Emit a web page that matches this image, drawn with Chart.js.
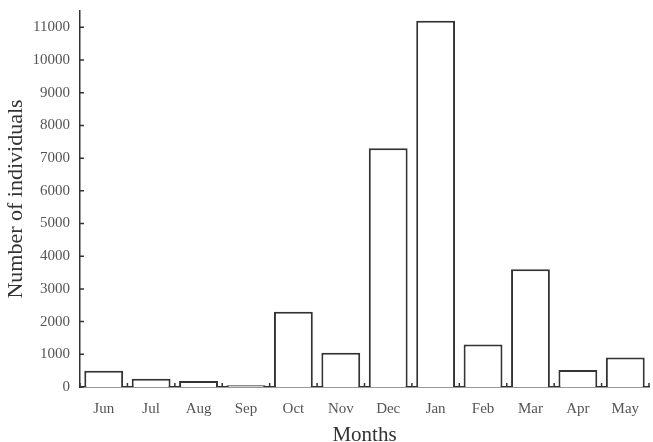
<!DOCTYPE html>
<html>
<head>
<meta charset="utf-8">
<script src="https://cdn.jsdelivr.net/npm/chart.js@4"></script>
<style>
  html, body { margin: 0; padding: 0; background: #fff; }
  #wrap { width: 653px; height: 442px; }
</style>
</head>
<body>
<div id="wrap"><canvas id="monthChart"></canvas></div>
<script>
const months = ["Jun", "Jul", "Aug", "Sep", "Oct", "Nov", "Dec", "Jan", "Feb", "Mar", "Apr", "May"];
const individuals = [500, 250, 180, 50, 2300, 1050, 7300, 11200, 1300, 3600, 520, 900];
const yTicks = [0, 1000, 2000, 3000, 4000, 5000, 6000, 7000, 8000, 9000, 10000, 11000];

const serif = "'Liberation Serif', 'DejaVu Serif', serif";

// small tick marks pointing into the plot, like the original
const innerTicks = {
    id: "innerTicks",
    afterDraw(chart) {
        const c = chart.ctx;
        const x = chart.scales.x;
        const y = chart.scales.y;
        c.save();
        c.strokeStyle = "#333";
        c.lineWidth = 1.5;
        c.beginPath();
        yTicks.forEach(v => {
            const py = y.getPixelForValue(v);
            c.moveTo(x.left, py);
            c.lineTo(x.left + 4, py);
        });
        for (let i = 0; i <= months.length; i++) {
            const px = x.getPixelForValue(i - 0.5);
            c.moveTo(px, y.bottom);
            c.lineTo(px, y.bottom - 4);
        }
        c.stroke();
        c.restore();
    }
};

const ctx = document.getElementById("monthChart").getContext("2d");

new Chart(ctx, {
    type: "bar",
    data: {
        labels: months,
        datasets: [
            {
                label: "Number of individuals",
                data: individuals,
                backgroundColor: "#ffffff",
                borderColor: "#333333",
                borderWidth: 2,
                borderSkipped: "bottom",
                barPercentage: 0.9,
                categoryPercentage: 0.91
            }
        ]
    },
    options: {
        responsive: true,
        maintainAspectRatio: false,
        animation: false,
        layout: {
            padding: { left: 0, right: 4, top: 11, bottom: 0 }
        },
        plugins: {
            legend: { display: false },
            tooltip: { enabled: false }
        },
        scales: {
            x: {
                grid: { display: false },
                border: { display: true, color: "#333", width: 1.5 },
                ticks: {
                    color: "#555",
                    font: { family: serif, size: 15 },
                    padding: 5,
                    maxRotation: 0
                },
                title: {
                    display: true,
                    text: "Months",
                    color: "#333",
                    font: { family: serif, size: 21 },
                    padding: { top: 14, bottom: -6 }
                },
                afterFit(scale) { scale.height = 55; }
            },
            y: {
                min: 0,
                max: 11500,
                grid: { display: false },
                border: { display: true, color: "#333", width: 1.5 },
                ticks: {
                    stepSize: 1000,
                    color: "#555",
                    font: { family: serif, size: 15 },
                    padding: 2,
                    callback: v => String(v)
                },
                afterBuildTicks(scale) {
                    scale.ticks = yTicks.map(v => ({ value: v }));
                },
                title: {
                    display: true,
                    text: "Number of individuals",
                    color: "#333",
                    font: { family: serif, size: 22 },
                    padding: { top: 3, bottom: 4 }
                },
                afterFit(scale) { scale.width = 80; }
            }
        }
    },
    plugins: [innerTicks]
});
</script>
</body>
</html>
